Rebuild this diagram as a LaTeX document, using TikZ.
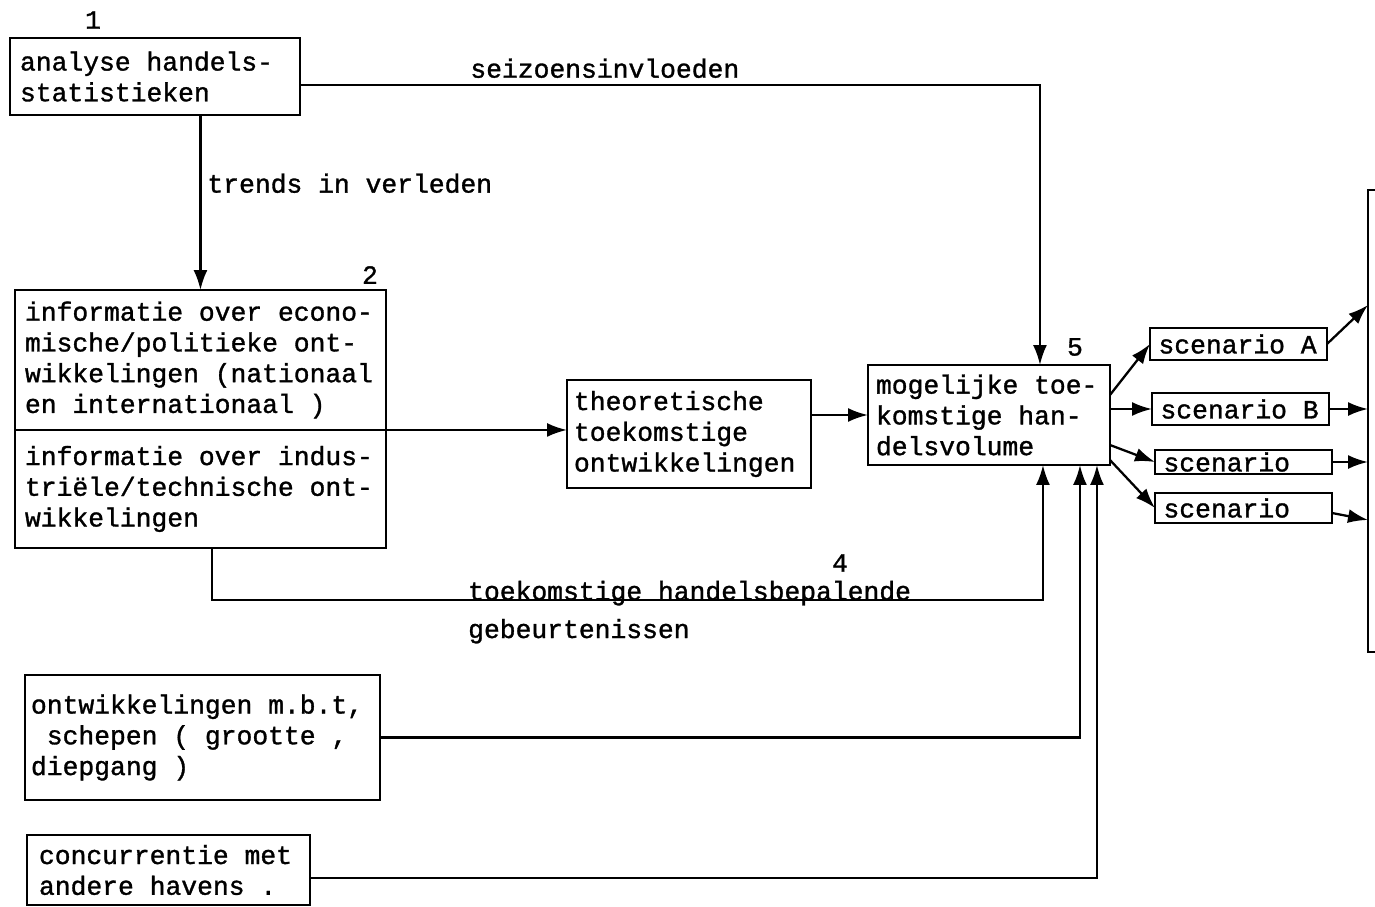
\documentclass[tikz,border=0pt]{standalone}
\usepackage{fontspec}
\setmonofont[FakeBold=1.2, WordSpace={1,0,0}]{Liberation Mono}
\usetikzlibrary{arrows.meta,positioning}

\begin{document}
\begin{tikzpicture}[x=0.02cm, y=-0.02cm,
  every node/.style={font=\ttfamily\fontsize{15}{17.5}\selectfont},
  blok/.style={draw, line width=1.3pt, anchor=north west, align=flush left, inner ysep=0pt, outer sep=0pt},
  scen/.style={blok, text width=3.2cm, inner xsep=0.17cm},
  lijn/.style={line width=1.3pt},
  pijl/.style={line width=1.3pt, -{Latex[length=4mm, width=2.8mm]}}]

\useasboundingbox (0,0) rectangle (1375,906);
\fill[white] (0,0) rectangle (1375,906);

% === LEFT COLUMN: INPUT BOXES ===
\node[blok, text width=5.4cm, inner xsep=0.2cm, minimum height=1.54cm] (ana) at (10,38) {analyse handels-\\statistieken};
\node (n1) at (93,20) {1};

\node[blok, text width=7.02cm, inner xsep=0.2cm, minimum height=2.8cm] (econ) at (15,290)
  {informatie over econo-\\mische/politieke ont-\\wikkelingen (nationaal\\en internationaal )};
\node[blok, text width=7.02cm, inner xsep=0.2cm, minimum height=2.36cm] (indus) at (econ.south west)
  {informatie over indus-\\triële/technische ont-\\wikkelingen};
\node (n2) at (370,275) {2};

\node[blok, text width=6.86cm, inner xsep=0.12cm, minimum height=2.5cm] (ontw) at (25,675)
  {ontwikkelingen m.b.t,\\~schepen ( grootte ,\\diepgang )};
\node[blok, text width=5.18cm, inner xsep=0.24cm, minimum height=1.4cm] (conc) at (27,835)
  {concurrentie met\\andere havens .};

% === MIDDLE: THEORY AND VOLUME ===
\node[blok, text width=4.6cm, inner xsep=0.14cm, minimum height=2.16cm] (theo) at (567,380)
  {theoretische\\toekomstige\\ontwikkelingen};
\node[blok, text width=4.52cm, inner xsep=0.16cm, minimum height=2.0cm] (mog) at (868,365)
  {mogelijke toe-\\komstige han-\\delsvolume};
\node (n5) at (1075,347) {5};

% === SCENARIOS ===
\node[scen, minimum height=0.64cm] (scenA) at (1150,328) {scenario A};
\node[scen, minimum height=0.64cm] (scenB) at (1152,393) {scenario B};
\node[scen, minimum height=0.48cm] (scen3) at (1155,450) {scenario};
\node[scen, minimum height=0.6cm] (scen4) at (1155,493) {scenario};

\begin{scope}
  \clip (0,0) rectangle (1375,906);
  \node[draw, line width=1.3pt, anchor=north west, minimum width=1.2cm, minimum height=9.24cm, inner sep=0pt, outer sep=0pt] (res) at (1368,190) {};
\end{scope}

% === CONNECTORS ===
\draw[pijl] ([yshift=-0.17cm]ana.east) -| ([xshift=1.02cm]mog.north)
  node[pos=0.206, above] {seizoensinvloeden};
\draw[pijl] (ana.south -| econ.north) -- (econ.north)
  node[pos=0.39, right] {trends in verleden};
\draw[pijl] (econ.south east) -- (econ.south east -| theo.west);
\draw[pijl] (theo.east |- mog.west) -- (mog.west);

\draw[pijl] ([xshift=0.23cm]indus.south) -- ++(0,52) -| ([xshift=1.08cm]mog.south);
\node (n4) at (840,563) {4};
\node[anchor=base west] (toek) at (462,600) {toekomstige handelsbepalende};
\node[anchor=base west] (gebeurt) at (462,638) {gebeurtenissen};

\draw[pijl] (ontw.east) -| ([xshift=1.82cm]mog.south);
\draw[pijl] ([yshift=-0.16cm]conc.east) -| ([xshift=2.16cm]mog.south);

\draw[pijl] ([yshift=0.4cm]mog.east) -- (scenA.west);
\draw[pijl] (mog.east |- scenB.west) -- (scenB.west);
\draw[pijl] ([yshift=-0.6cm]mog.east) -- (scen3.west);
\draw[pijl] ([yshift=-0.9cm]mog.east) -- (scen4.west);

\draw[pijl] (scenA.east) -- ([yshift=2.32cm]res.west);
\draw[pijl] (scenB.east) -- (scenB.east -| res.west);
\draw[pijl] (scen3.east) -- (scen3.east -| res.west);
\draw[pijl] ([yshift=-0.1cm]scen4.east) -- ([yshift=-1.98cm]res.west);

\end{tikzpicture}
\end{document}
